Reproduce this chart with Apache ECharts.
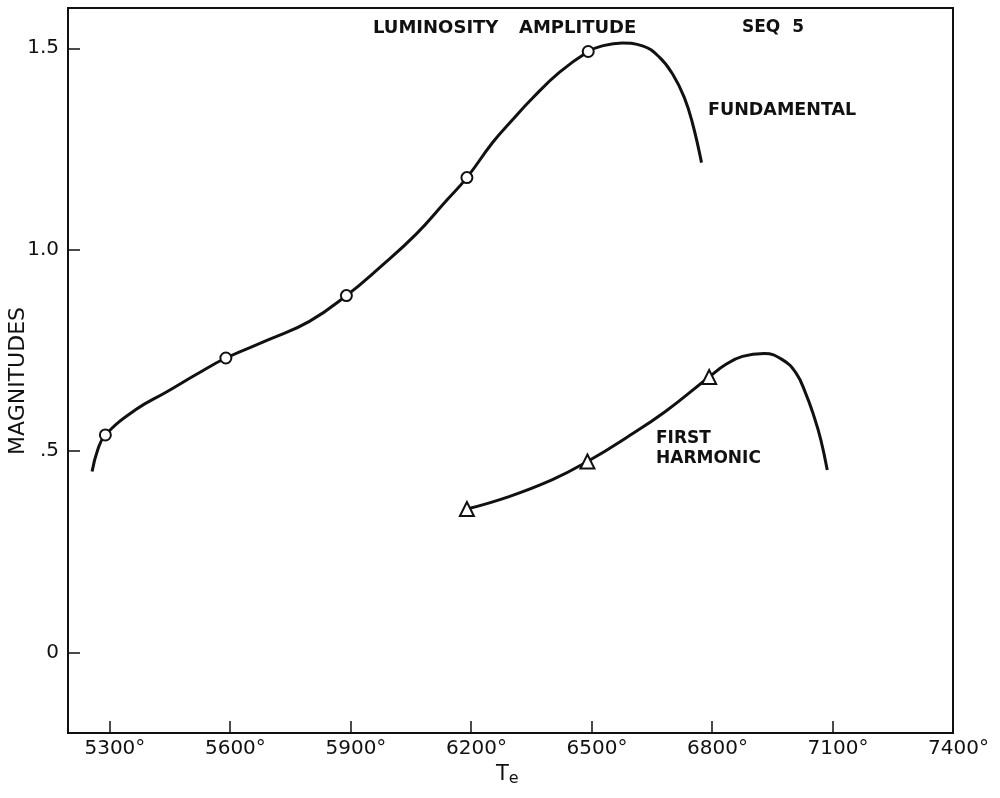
<!DOCTYPE html>
<html>
<head>
<meta charset="utf-8">
<title>Luminosity Amplitude — Seq 5</title>
<script src="https://cdn.jsdelivr.net/npm/echarts@6/dist/echarts.min.js"></script>
<style>
  html, body { margin: 0; padding: 0; background: #ffffff; }
  #chart { width: 1000px; height: 798px; }
</style>
</head>
<body>
<div id="chart"></div>
<script>
// Axis ticks
const tempTicks = [5300, 5600, 5900, 6200, 6500, 6800, 7100, 7400];
const magTicks = [0, 0.5, 1.0, 1.5];
const magTickLabels = ['0', '.5', '1.0', '1.5'];

// Fundamental mode: computed models (circles)
const fundTe  = [5290, 5590, 5890, 6190, 6492];
const fundMag = [0.540, 0.731, 0.886, 1.179, 1.492];

// Fundamental mode: drawn curve through the models
const fundCurveTe  = [5257, 5271, 5290, 5366, 5441, 5516, 5590, 5698, 5798, 5890, 5972, 6063, 6138, 6190, 6254, 6303, 6353, 6420, 6492, 6527, 6577, 6627, 6669, 6702, 6731, 6752, 6774];
const fundCurveMag = [0.449, 0.503, 0.540, 0.603, 0.646, 0.690, 0.731, 0.777, 0.822, 0.886, 0.955, 1.038, 1.121, 1.179, 1.266, 1.322, 1.376, 1.440, 1.492, 1.506, 1.513, 1.506, 1.478, 1.436, 1.378, 1.312, 1.216];

// First harmonic: computed models (triangles)
const harmTe  = [6190, 6490, 6793];
const harmMag = [0.356, 0.474, 0.684];

// First harmonic: drawn curve through the models
const harmCurveTe  = [6190, 6295, 6403, 6490, 6585, 6685, 6793, 6834, 6876, 6930, 6975, 7009, 7033, 7054, 7071, 7087];
const harmCurveMag = [0.356, 0.387, 0.429, 0.474, 0.532, 0.599, 0.684, 0.715, 0.735, 0.742, 0.727, 0.694, 0.644, 0.586, 0.528, 0.453];

const zip = (xs, ys) => xs.map((x, i) => [x, ys[i]]);

const INK = '#111111';
const FONT = '"DejaVu Sans", "Liberation Sans", Arial, sans-serif';

const chart = echarts.init(document.getElementById('chart'), null, { renderer: 'canvas' });

chart.setOption({
  animation: false,
  backgroundColor: '#ffffff',
  grid: {
    left: 68, right: 47, top: 8, bottom: 65,
    show: true, borderColor: INK, borderWidth: 2, backgroundColor: 'transparent'
  },
  xAxis: {
    type: 'value',
    min: 5197, max: 7400,
    splitLine: { show: false },
    axisLine: { show: true, onZero: false, lineStyle: { color: INK, width: 2 } },
    axisTick: { show: true, inside: true, length: 12, customValues: tempTicks, lineStyle: { color: INK, width: 1.5 } },
    axisLabel: {
      customValues: tempTicks, margin: 6, color: INK, fontFamily: FONT, fontSize: 20,
      padding: [0, 0, 0, 11],
      formatter: v => v + '°'
    }
  },
  yAxis: {
    type: 'value',
    min: -0.2, max: 1.6,
    splitLine: { show: false },
    axisLine: { show: true, onZero: false, lineStyle: { color: INK, width: 2 } },
    axisTick: { show: true, inside: true, length: 12, customValues: magTicks, lineStyle: { color: INK, width: 1.5 } },
    axisLabel: {
      customValues: magTicks, margin: 9, color: INK, fontFamily: FONT, fontSize: 20,
      formatter: v => magTickLabels[magTicks.indexOf(v)]
    }
  },
  series: [
    {
      name: 'Fundamental curve', type: 'line', smooth: 0.45,
      showSymbol: false, symbol: 'none',
      lineStyle: { color: INK, width: 3 },
      data: zip(fundCurveTe, fundCurveMag), z: 2
    },
    {
      name: 'First harmonic curve', type: 'line', smooth: 0.45,
      showSymbol: false, symbol: 'none',
      lineStyle: { color: INK, width: 3 },
      data: zip(harmCurveTe, harmCurveMag), z: 2
    },
    {
      name: 'Fundamental', type: 'scatter', symbol: 'circle', symbolSize: 11,
      itemStyle: { color: '#ffffff', borderColor: INK, borderWidth: 2, opacity: 1 },
      data: zip(fundTe, fundMag), z: 3
    },
    {
      name: 'First harmonic', type: 'scatter', symbol: 'triangle', symbolSize: 14,
      itemStyle: { color: '#ffffff', borderColor: INK, borderWidth: 2, opacity: 1 },
      data: zip(harmTe, harmMag), z: 3
    }
  ],
  graphic: [
    { type: 'text', left: 373, top: 19,
      style: { text: 'LUMINOSITY', fill: INK, font: 'bold 18px ' + FONT } },
    { type: 'text', left: 519, top: 19,
      style: { text: 'AMPLITUDE', fill: INK, font: 'bold 18px ' + FONT } },
    { type: 'text', left: 742, top: 19,
      style: { text: 'SEQ  5', fill: INK, font: 'bold 17px ' + FONT } },
    { type: 'text', left: 708, top: 101,
      style: { text: 'FUNDAMENTAL', fill: INK, font: 'bold 17.5px ' + FONT } },
    { type: 'text', left: 656, top: 429,
      style: { text: 'FIRST\nHARMONIC', fill: INK, font: 'bold 17px ' + FONT, lineHeight: 20 } },
    { type: 'text', x: 18, y: 381, rotation: Math.PI / 2,
      style: { text: 'MAGNITUDES', fill: INK, font: '22px ' + FONT, align: 'center', verticalAlign: 'middle' } },
    { type: 'text', left: 496, top: 764,
      style: {
        text: '{t|T}{s|e}', fill: INK,
        rich: {
          t: { fontFamily: FONT, fontSize: 21, fill: INK },
          s: { fontFamily: FONT, fontSize: 16, fill: INK, padding: [9, 0, 0, 0] }
        }
      } }
  ]
});
</script>
</body>
</html>
